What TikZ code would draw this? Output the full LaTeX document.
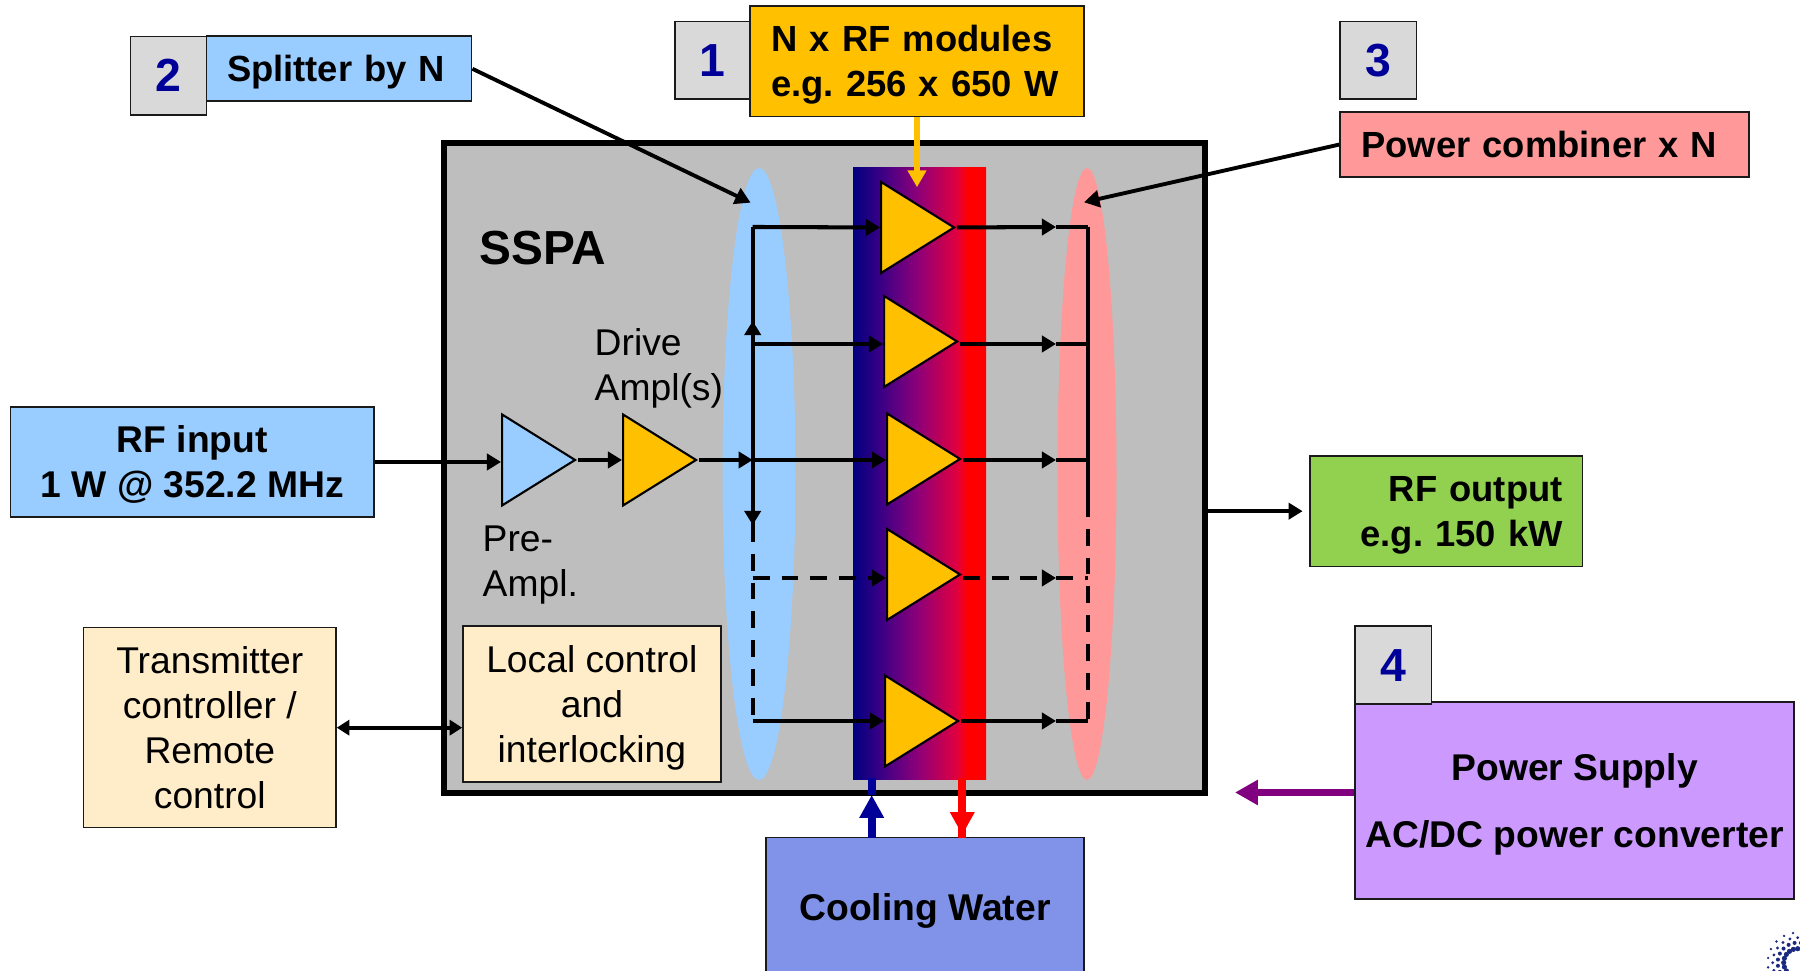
\documentclass[tikz,border=0pt]{standalone}
\usepackage{xcolor}
\usepackage{fontspec}
\setmainfont{Liberation Sans}
\usetikzlibrary{shapes.geometric,arrows.meta}

\definecolor{badgegrey}{HTML}{D9D9D9}
\definecolor{skyblue}{HTML}{99CCFF}
\definecolor{ampyellow}{HTML}{FFC000}
\definecolor{combpink}{HTML}{FF9999}
\definecolor{creambox}{HTML}{FFECC8}
\definecolor{outgreen}{HTML}{92D050}
\definecolor{supplyviolet}{HTML}{CC99FF}
\definecolor{coolblue}{HTML}{8093E8}
\definecolor{sspagrey}{HTML}{BEBEBE}
\definecolor{digitblue}{HTML}{000099}
\definecolor{linegrey}{HTML}{1A1A1A}
\definecolor{supplypurple}{HTML}{800080}
\definecolor{logoblue}{HTML}{1B2A80}
\definecolor{barA}{RGB}{0,0,128}
\definecolor{barB}{RGB}{62,0,133}
\definecolor{barC}{RGB}{139,0,122}
\definecolor{barD}{RGB}{224,0,64}

\pgfdeclarehorizontalshading{barshade}{100bp}{
  color(0bp)=(barA);
  color(25bp)=(barA);
  color(36bp)=(barB);
  color(49bp)=(barC);
  color(64bp)=(barD);
  color(68bp)=(red);
  color(100bp)=(red)}

\tikzset{
  plainbox/.style={shape=rectangle,draw=linegrey,line width=0.45pt,inner sep=0pt,text depth=0pt,font=\fontsize{10.6}{12.8}\selectfont},
  boldbox/.style={plainbox,font=\fontsize{10.35}{12.8}\selectfont\bfseries},
  boldwide/.style={plainbox,font=\fontsize{10.6}{12.8}\selectfont\bfseries},
  badge/.style={plainbox,fill=badgegrey,text=digitblue,font=\fontsize{13.2}{15}\selectfont\bfseries},
  amp/.style={shape=isosceles triangle,isosceles triangle stretches,draw=black,line width=0.6pt,fill=ampyellow,
    inner sep=0pt,minimum width=0.91cm,minimum height=0.73cm,anchor=lower side},
  wire/.style={line width=1.15pt,-{Triangle[length=4pt,width=4.6pt]}},
  plainwire/.style={line width=1.15pt},
  gapped/.style={line width=1.15pt,dash pattern=on 4.8pt off 3.4pt},
}

\begin{document}
\frenchspacing
\begin{tikzpicture}
  \useasboundingbox (0,0) rectangle (18,9.71);
  \clip (0,0) rectangle (18,9.71);

  % main frame
  \node[shape=rectangle,draw=black,line width=1.45pt,fill=sspagrey,minimum width=7.61cm,minimum height=6.5cm,inner sep=0pt] (sspa) at (8.245,5.03) {};
  \node[font=\fontsize{13.6}{15}\selectfont\bfseries,inner sep=0pt] (sspalabel) at (5.43,7.23) {SSPA};

  \node[shape=ellipse,fill=skyblue,minimum width=0.73cm,minimum height=6.12cm,inner sep=0pt] (split) at (7.59,4.97) {};
  \node[shape=ellipse,fill=combpink,minimum width=0.59cm,minimum height=6.12cm,inner sep=0pt] (comb) at (10.87,4.97) {};
  \node[shape=rectangle,shading=barshade,minimum width=1.33cm,minimum height=6.12cm,inner sep=0pt] (bar) at (9.195,4.97) {};

  % amplifiers
  \node[amp,fill=skyblue] (pre) at (5.01,5.11) {};
  \node[amp] (drive) at (6.22,5.11) {};
  \node[amp] (A) at (8.80,7.435) {};
  \node[amp] (B) at (8.83,6.295) {};
  \node[amp] (C) at (8.86,5.12) {};
  \node[amp] (D) at (8.86,3.965) {};
  \node[amp] (E) at (8.84,2.5) {};

  % text boxes
  \node[boldbox,fill=skyblue,minimum width=2.652cm,minimum height=0.65cm,text width=2.24cm,inner xsep=0.206cm,align=left] (splitter) at (3.39,9.022) {Splitter by N};
  \node[badge,minimum width=0.76cm,minimum height=0.784cm] (two) at (1.685,8.953) {2};
  \node[badge,minimum width=0.753cm,minimum height=0.777cm] (one) at (7.124,9.108) {1};
  \node[boldbox,text depth=12.8pt,fill=ampyellow,minimum width=3.337cm,minimum height=1.103cm,text width=2.91cm,inner xsep=0.213cm,align=left] (modules) at (9.169,9.098) {N x RF modules\\e.g. 256 x 650 W};
  \node[badge,minimum width=0.764cm,minimum height=0.777cm] (three) at (13.782,9.108) {3};
  \node[boldbox,fill=combpink,minimum width=4.09cm,minimum height=0.647cm,text width=3.662cm,inner xsep=0.214cm,align=left] (combiner) at (15.445,8.264) {Power combiner x N};
  \node[boldwide,fill=skyblue,minimum width=3.637cm,minimum height=1.10cm,align=center] (rfin) at (1.922,5.09) {RF input\\1 W @ 352.2 MHz};
  \node[plainbox,fill=creambox,minimum width=2.523cm,minimum height=2.0cm,align=center] (ctrl) at (2.098,2.433) {Transmitter\\controller /\\Remote\\control};
  \node[plainbox,fill=creambox,minimum width=2.578cm,minimum height=1.56cm,align=center] (local) at (5.919,2.67) {Local control\\and\\interlocking};
  \node[boldbox,text depth=12.8pt,fill=outgreen,minimum width=2.729cm,minimum height=1.106cm,text width=2.329cm,inner xsep=0.2cm,align=right] (rfout) at (14.462,4.598) {RF output\\e.g. 150 kW};
  \node[boldwide,fill=supplyviolet,minimum width=4.393cm,minimum height=1.97cm,align=center] (supply) at (15.746,1.705) {Power Supply\\[6.2pt]AC/DC power converter};
  \node[badge,minimum width=0.765cm,minimum height=0.783cm] (four) at (13.933,3.059) {4};
  \node[boldwide,fill=coolblue,minimum width=3.18cm,minimum height=1.383cm] (cooling) at (9.25,0.642) {Cooling Water};

  \node[font=\fontsize{10.6}{12.8}\selectfont,inner sep=0pt,align=left,anchor=west] (drivelabel) at (5.94,6.03) {Drive\\Ampl(s)};
  \node[font=\fontsize{10.6}{12.8}\selectfont,inner sep=0pt,align=left,anchor=west] (prelabel) at (4.82,4.06) {Pre-\\Ampl.};

  % bus corners
  \coordinate (sA) at (7.527,7.44);
  \coordinate (sB) at (7.527,6.27);
  \coordinate (sC) at (7.527,5.11);
  \coordinate (sD) at (7.527,3.93);
  \coordinate (sE) at (7.527,2.5);
  \coordinate (sDown) at (7.527,4.46);
  \coordinate (sUp) at (7.527,6.50);
  \coordinate (dashEnd) at (8.70,3.93);
  \coordinate (cA) at (10.883,7.44);
  \coordinate (cB) at (10.883,6.27);
  \coordinate (cC) at (10.883,5.11);
  \coordinate (cD) at (10.883,3.93);
  \coordinate (cE) at (10.883,2.5);
  \coordinate (cMid) at (10.883,4.71);
  \coordinate (mA) at (10.56,7.44);
  \coordinate (mB) at (10.56,6.27);
  \coordinate (mC) at (10.56,5.11);
  \coordinate (mD) at (10.56,3.93);
  \coordinate (mE) at (10.56,2.5);
  \coordinate (splitTip) at (7.506,7.683);
  \coordinate (combTip) at (10.84,7.687);
  \coordinate (modulesTip) at (9.17,7.837);

  % splitter side
  \draw[plainwire] (sA) -- (sDown);
  \draw[wire] (sB) -- (sUp);
  \draw[wire] (sC) -- (sDown);
  \draw[gapped] (sDown) -- (sE);
  \draw[wire] (sA) -- (A.lower side);
  \draw[wire] (sB) -- (B.lower side |- sB);
  \draw[wire] (sE) -- (E.lower side);
  \draw[gapped] (sD) -- (dashEnd);
  \draw[wire] (dashEnd) -- (D.lower side |- dashEnd);

  % stages
  \draw[wire] (rfin.east) -- (pre.lower side |- rfin.east);
  \draw[wire] (pre.apex) -- (drive.lower side);
  \draw[wire] (drive.apex) -- (sC);
  \draw[wire] (sC) -- (C.lower side |- sC);

  % combiner side
  \draw[wire] (A.apex) -- (mA);
  \draw[plainwire] (mA) -- (cA);
  \draw[wire] (B.apex |- mB) -- (mB);
  \draw[plainwire] (mB) -- (cB);
  \draw[wire] (C.apex |- mC) -- (mC);
  \draw[plainwire] (mC) -- (cC);
  \draw[gapped,-{Triangle[length=4pt,width=4.6pt]}] (D.apex |- mD) -- (mD);
  \draw[gapped] (mD) -- (cD);
  \draw[wire] (E.apex) -- (mE);
  \draw[plainwire] (mE) -- (cE);
  \draw[plainwire] (cA) -- (cMid);
  \draw[gapped] (cMid) -- (cE);

  % callouts
  \draw[line width=1.1pt,-{Triangle[length=4.4pt,width=4.8pt]}] (splitter.east) -- (splitTip);
  \draw[line width=1.1pt,-{Triangle[length=4.4pt,width=4.8pt]}] (combiner.west) -- (combTip);
  \draw[ampyellow,line width=1.7pt,-{Triangle[length=4.8pt,width=5.1pt]}] (modulesTip |- modules.south) -- (modulesTip);
  \draw[line width=1.1pt,-{Triangle[length=4pt,width=4.6pt]},shorten >=1.8pt] (sspa.east |- rfout.west) -- (rfout.west);
  \draw[line width=1.1pt,{Triangle[length=3.6pt,width=4.3pt]}-{Triangle[length=3.6pt,width=4.3pt]}] (ctrl.east) -- (local.west |- ctrl.east);
  \coordinate (supplyTip) at (12.35,1.785);
  \draw[supplypurple,line width=2pt,-{Triangle[length=6.5pt,width=6.8pt]}] (supply.west |- supplyTip) -- (supplyTip);

  % cooling loop
  \coordinate (coldIn) at (8.717,1.33);
  \coordinate (coldTip) at (8.717,1.76);
  \coordinate (coldTop) at (8.717,1.93);
  \coordinate (hotTop) at (9.623,1.93);
  \coordinate (hotMid) at (9.623,1.59);
  \coordinate (hotTip) at (9.623,1.36);
  \coordinate (hotIn) at (9.623,1.33);
  \draw[digitblue,line width=2.2pt,-{Triangle[length=6.5pt,width=6.6pt]}] (coldIn) -- (coldTip);
  \draw[digitblue,line width=2.2pt] (coldTip) -- (coldTop);
  \draw[red,line width=2.2pt] (hotTop) -- (hotIn);
  \draw[red,line width=2.2pt,-{Triangle[length=6.5pt,width=6.6pt]}] (hotMid) -- (hotTip);

  % logo in the corner
  \foreach \ang in {72,90,...,270} {
    \fill[logoblue] (17.977,0.083) ++(\ang:0.14) circle (0.026);
    \fill[logoblue] (17.977,0.083) ++(\ang+9:0.20) circle (0.020);
    \fill[logoblue] (17.977,0.083) ++(\ang:0.25) circle (0.016);
    \fill[logoblue] (17.977,0.083) ++(\ang+9:0.30) circle (0.013);
  }
\end{tikzpicture}
\end{document}
